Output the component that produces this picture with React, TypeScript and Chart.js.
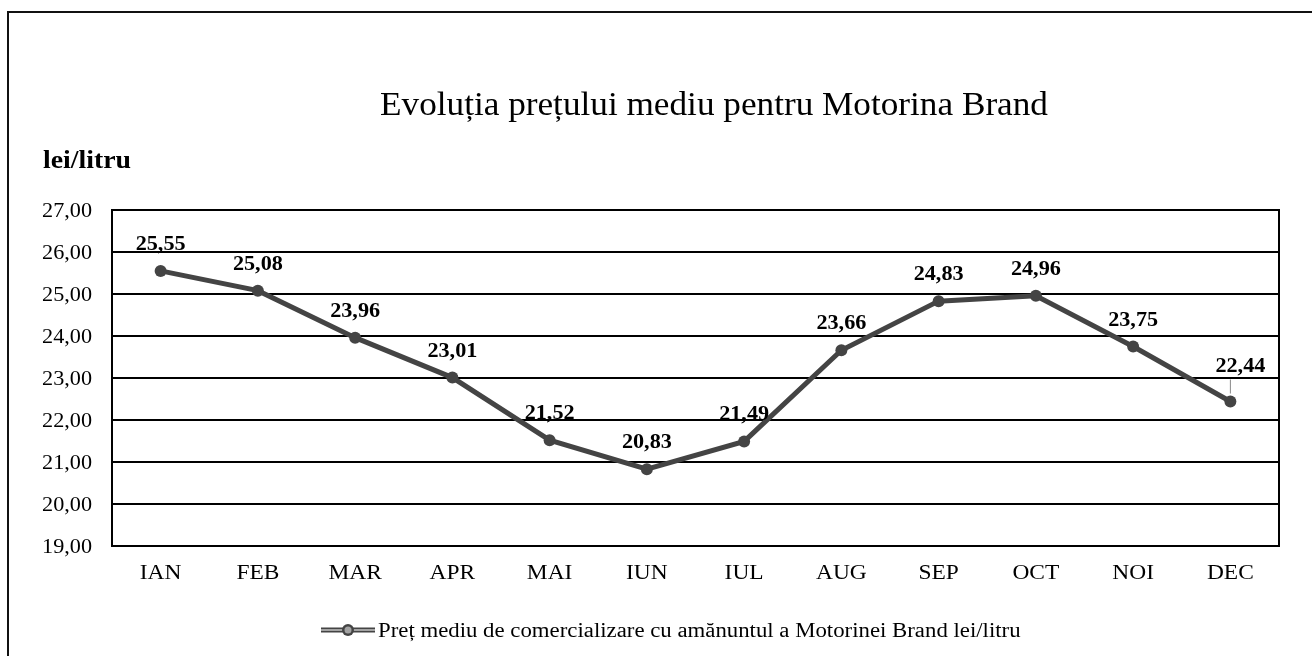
import React, { useEffect, useRef } from "react";
import { Chart, registerables } from "chart.js";

Chart.register(...registerables);

// ---- data ----
const months = ["IAN", "FEB", "MAR", "APR", "MAI", "IUN", "IUL", "AUG", "SEP", "OCT", "NOI", "DEC"];
const prices = [25.55, 25.08, 23.96, 23.01, 21.52, 20.83, 21.49, 23.66, 24.83, 24.96, 23.75, 22.44];
const yMin = 19;
const yMax = 27;
const yStep = 1;
const chartTitle = "Evoluția prețului mediu pentru Motorina Brand";
const yAxisTitle = "lei/litru";
const seriesName = "Preț mediu de comercializare cu amănuntul a Motorinei Brand lei/litru";

const SERIF = '"Liberation Serif", "Times New Roman", serif';
const fmt = (v: number) => v.toFixed(2).replace(".", ",");

const LINE_DARK = "#444444";
const LINE_LIGHT = "#a3a3a3";

// draws text with a slight horizontal stretch (the reference type is wide)
function stretchText(
  ctx: CanvasRenderingContext2D,
  text: string,
  x: number,
  y: number,
  font: string,
  align: CanvasTextAlign,
  sx: number
) {
  ctx.save();
  ctx.font = font;
  ctx.fillStyle = "#000";
  ctx.textAlign = align;
  ctx.textBaseline = "alphabetic";
  ctx.translate(x, y);
  ctx.scale(sx, 1);
  ctx.fillText(text, 0, 0);
  ctx.restore();
}

function drawMarker(ctx: CanvasRenderingContext2D, x: number, y: number) {
  ctx.beginPath();
  ctx.arc(x, y, 6, 0, Math.PI * 2);
  ctx.fillStyle = LINE_DARK;
  ctx.fill();
  ctx.beginPath();
  ctx.arc(x, y, 3.5, 0, Math.PI * 2);
  ctx.fillStyle = LINE_LIGHT;
  ctx.fill();
}

const framePlugin = {
  id: "frame",
  beforeDatasetsDraw(chart: any) {
    const { ctx, chartArea: a } = chart;
    ctx.save();
    ctx.strokeStyle = "#000";
    ctx.lineWidth = 2;
    ctx.strokeRect(a.left, a.top, a.right - a.left, a.bottom - a.top);
    ctx.restore();
  },
};

const tickPlugin = {
  id: "stretchTicks",
  afterDraw(chart: any) {
    const { ctx, chartArea: a } = chart;
    const ys = chart.scales.y;
    ys.ticks.forEach((t: any, i: number) => {
      const py = ys.getPixelForTick(i);
      stretchText(ctx, fmt(Number(t.value)), a.left - 20, py + 7, `20px ${SERIF}`, "right", 1.11);
    });
    const xs = chart.scales.x;
    xs.ticks.forEach((t: any, i: number) => {
      const px = xs.getPixelForTick(i);
      stretchText(ctx, String(months[t.value] ?? t.label), px, a.bottom + 33, `21.5px ${SERIF}`, "center", 1.09);
    });
  },
};

const labelsPlugin = {
  id: "valueLabels",
  afterDatasetsDraw(chart: any) {
    const { ctx } = chart;
    const meta = chart.getDatasetMeta(1);
    meta.data.forEach((pt: any, i: number) => {
      const last = i === prices.length - 1;
      if (last) {
        ctx.save();
        ctx.strokeStyle = "#888";
        ctx.lineWidth = 1;
        ctx.beginPath();
        ctx.moveTo(pt.x, pt.y - 22);
        ctx.lineTo(pt.x, pt.y - 8);
        ctx.stroke();
        ctx.restore();
        stretchText(ctx, fmt(prices[i]), pt.x + 10, pt.y - 30, `bold 20px ${SERIF}`, "center", 1.11);
      } else {
        stretchText(ctx, fmt(prices[i]), pt.x, pt.y - 21, `bold 20px ${SERIF}`, "center", 1.11);
      }
    });
  },
};

const decorPlugin = {
  id: "decor",
  afterDraw(chart: any) {
    const { ctx } = chart;
    ctx.save();
    // outer border (top + left)
    ctx.strokeStyle = "#111";
    ctx.lineWidth = 2;
    ctx.beginPath();
    ctx.moveTo(8, 656);
    ctx.lineTo(8, 12);
    ctx.lineTo(1312, 12);
    ctx.stroke();
    ctx.restore();

    // title
    stretchText(ctx, chartTitle, 714, 115, `33px ${SERIF}`, "center", 1.067);

    // y axis title
    stretchText(ctx, yAxisTitle, 43, 168, `bold 26px ${SERIF}`, "left", 1.07);

    // legend
    const ly = 630;
    ctx.save();
    ctx.strokeStyle = LINE_DARK;
    ctx.lineWidth = 5;
    ctx.beginPath();
    ctx.moveTo(321, ly);
    ctx.lineTo(375, ly);
    ctx.stroke();
    ctx.strokeStyle = LINE_LIGHT;
    ctx.lineWidth = 2;
    ctx.beginPath();
    ctx.moveTo(321, ly);
    ctx.lineTo(375, ly);
    ctx.stroke();
    drawMarker(ctx, 348, ly);
    ctx.restore();
    stretchText(ctx, seriesName, 378, 637, `20px ${SERIF}`, "left", 1.14);
  },
};

export default function App() {
  const canvasRef = useRef<HTMLCanvasElement | null>(null);

  useEffect(() => {
    if (!canvasRef.current) return;
    const chart = new Chart(canvasRef.current, {
      type: "line",
      data: {
        labels: months,
        datasets: [
          {
            label: seriesName + " (outline)",
            data: prices,
            borderColor: LINE_DARK,
            backgroundColor: LINE_DARK,
            borderWidth: 5,
            pointRadius: 6,
            pointBorderWidth: 0,
            pointBackgroundColor: LINE_DARK,
            tension: 0,
          },
          {
            label: seriesName,
            data: prices,
            borderColor: LINE_LIGHT,
            backgroundColor: LINE_LIGHT,
            borderWidth: 2,
            pointRadius: 3.5,
            pointBorderWidth: 0,
            pointBackgroundColor: LINE_LIGHT,
            tension: 0,
          },
        ],
      },
      options: {
        animation: false,
        responsive: false,
        devicePixelRatio: 1,
        layout: { padding: { top: 210, right: 33, bottom: 0, left: 0 } },
        plugins: {
          legend: { display: false },
          title: { display: false },
          tooltip: { enabled: false },
        },
        scales: {
          x: {
            offset: true,
            grid: { display: false, drawTicks: false },
            border: { display: true, color: "#000", width: 2 },
            ticks: { display: false, autoSkip: false },
            afterFit(scale: any) {
              scale.height = 110;
            },
          },
          y: {
            min: yMin,
            max: yMax,
            grid: { color: "#000", lineWidth: 2, drawTicks: false },
            border: { display: true, color: "#000", width: 2 },
            ticks: { display: false, stepSize: yStep },
            afterFit(scale: any) {
              scale.width = 112;
            },
          },
        },
      },
      plugins: [framePlugin, labelsPlugin, tickPlugin, decorPlugin],
    } as any);
    return () => chart.destroy();
  }, []);

  return (
    <div style={{ position: "fixed", left: 0, top: 0, width: 1312, height: 656, background: "#fff" }}>
      <canvas ref={canvasRef} width={1312} height={656} style={{ display: "block" }} />
    </div>
  );
}
